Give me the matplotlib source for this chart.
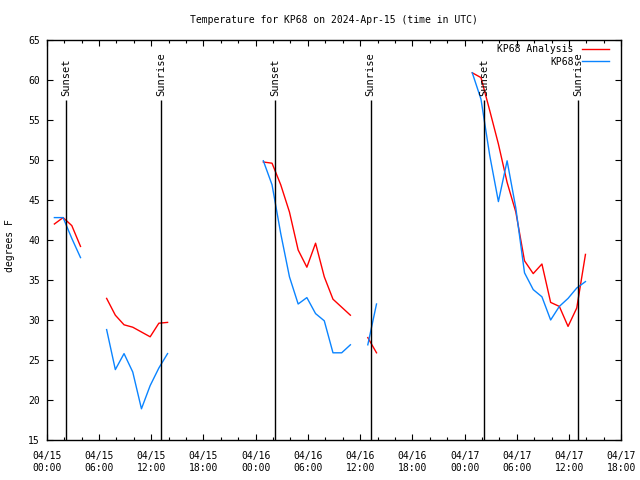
import numpy as np
import pandas as pd
import matplotlib
matplotlib.use('Agg')
import matplotlib.pyplot as plt
import matplotlib.dates as mdates

plt.rcParams['font.family'] = 'DejaVu Sans Mono'
plt.rcParams['font.size'] = 7

base = pd.Timestamp('2024-04-15 00:00')

# hours since 04/15 00:00 (obs at :53)
hrs1 = [0.883, 1.883, 2.883, 3.883]
red1 = [42.0, 42.8, 41.8, 39.2]
blue1 = [42.8, 42.8, 40.2, 37.8]

hrs2 = [6.883, 7.883, 8.883, 9.883, 10.883, 11.883, 12.883, 13.883]
red2 = [32.7, 30.6, 29.4, 29.1, 28.5, 27.9, 29.6, 29.7]
blue2 = [28.8, 23.8, 25.8, 23.5, 18.9, 21.8, 24.0, 25.8]

hrs3 = [24.883, 25.883, 26.883, 27.883, 28.883, 29.883, 30.883, 31.883,
        32.883, 33.883, 34.883]
red3 = [49.75, 49.6, 46.9, 43.5, 38.75, 36.6, 39.6, 35.4, 32.6, 31.6, 30.6]
blue3 = [49.9, 46.9, 40.8, 35.4, 32.0, 32.8, 30.8, 29.9, 25.9, 25.9, 26.9]

hrs4 = [36.883, 37.883]
red4 = [27.8, 25.9]
blue4 = [26.9, 32.0]

hrs5 = [48.883, 49.883, 50.883, 51.883, 52.883, 53.883, 54.883, 55.883,
        56.883, 57.883, 58.883, 59.883, 60.883, 61.883]
red5 = [60.9, 60.3, 56.2, 52.0, 47.2, 43.5, 37.4, 35.8, 37.0, 32.2, 31.7,
        29.2, 31.5, 38.2]
blue5 = [60.9, 57.6, 50.6, 44.8, 49.9, 44.0, 35.9, 33.8, 32.9, 30.0, 31.7,
         32.7, 34.0, 34.8]

sun_hrs = [2.25, 13.13, 26.26, 37.22, 50.27, 61.06]
sun_lbl = ['Sunset', 'Sunrise', 'Sunset', 'Sunrise', 'Sunset', 'Sunrise']


def tt(h):
    return base + pd.to_timedelta(np.array(h), unit='h')


fig = plt.figure(figsize=(6.4, 4.8), dpi=100)
ax = fig.add_axes([46.7 / 640, 40 / 480, 574.6 / 640, 400 / 480])

segs = [(hrs1, red1, blue1), (hrs2, red2, blue2), (hrs3, red3, blue3),
        (hrs4, red4, blue4), (hrs5, red5, blue5)]
for i, (h, r, b) in enumerate(segs):
    ax.plot(tt(h), r, color='#ff0000', lw=1,
            label='KP68 Analysis' if i == 0 else None)
    ax.plot(tt(h), b, color='#0a84ff', lw=1,
            label='KP68' if i == 0 else None)

ax.vlines(tt(sun_hrs), 15, 57.5, color='black', lw=1)
for h, s in zip(tt(sun_hrs), sun_lbl):
    ax.text(h, 58.0, s, rotation=90, ha='center', va='bottom', fontsize=7.5)

ax.set_xlim(base, base + pd.Timedelta(hours=66))
ax.set_ylim(15, 65)
ax.set_yticks(np.arange(15, 66, 5))
ax.xaxis.set_major_locator(mdates.HourLocator(byhour=[0, 6, 12, 18]))
ax.xaxis.set_minor_locator(mdates.HourLocator(interval=2))
ax.xaxis.set_major_formatter(mdates.DateFormatter('%m/%d\n%H:%M'))
ax.tick_params(which='both', direction='in', top=True, right=True)
ax.tick_params(which='major', length=4, width=0.8)
ax.tick_params(which='minor', length=2, width=0.8)
ax.tick_params(axis='x', pad=8)
ax.tick_params(axis='y', pad=5)
for sp in ax.spines.values():
    sp.set_linewidth(1)

leg = ax.legend(loc='upper right', bbox_to_anchor=(0.979, 0.99),
                frameon=False, markerfirst=False, borderaxespad=0,
                borderpad=0, handlelength=2.85, handletextpad=0.8,
                labelspacing=0.27, fontsize=7)

fig.text(334 / 640, 1 - 20 / 480, 'Temperature for KP68 on 2024-Apr-15 (time in UTC)',
         ha='center', va='center', fontsize=7)
fig.text(10 / 640, 1 - 246 / 480, 'degrees F', rotation=90,
         ha='center', va='center', fontsize=7)

fig.savefig('out.png', dpi=100)
